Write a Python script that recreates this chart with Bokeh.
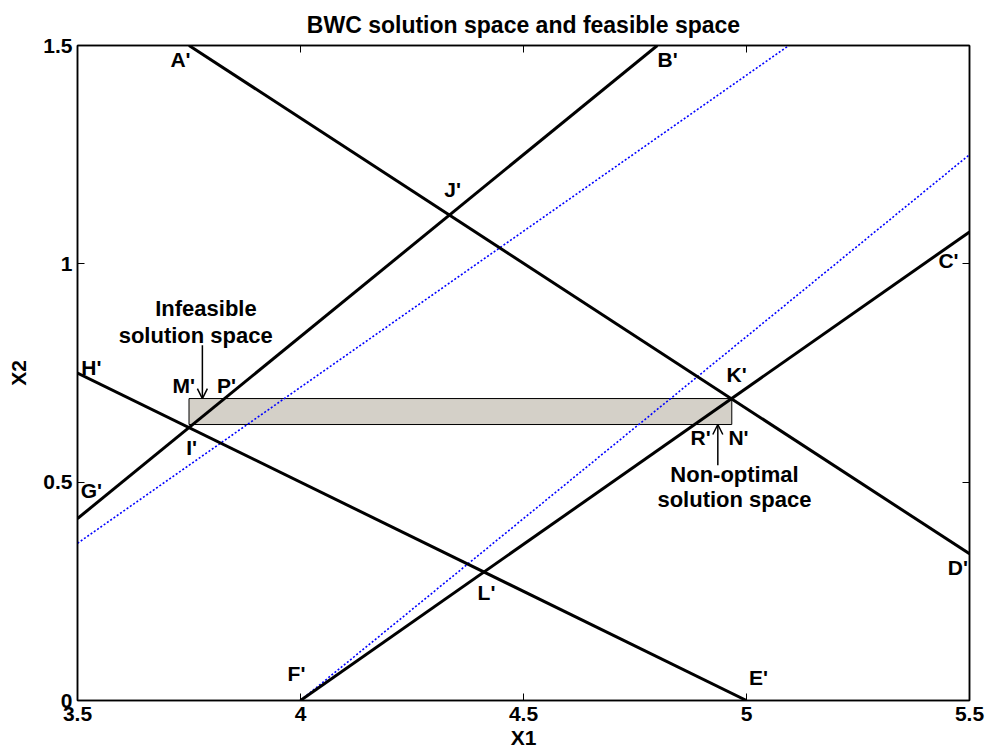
from bokeh.plotting import figure
from bokeh.models import (ColumnDataSource, FixedTicker, CustomJSTickFormatter, LinearAxis,
                          Range1d, Arrow, OpenHead)
from bokeh.core.properties import value
from bokeh.embed import file_html
from bokeh.resources import INLINE

# ---- data ----
x_ticks = [3.5, 4.0, 4.5, 5.0, 5.5]
y_ticks = [0.0, 0.5, 1.0, 1.5]

# constraint lines (black, solid)
line_AD_x = [3.75, 5.5]
line_AD_y = [1.5, 0.336]
line_GB_x = [3.5, 4.8]
line_GB_y = [0.4167, 1.5]
line_HE_x = [3.5, 5.0]
line_HE_y = [0.75, 0.0]
line_FC_x = [4.0, 5.5]
line_FC_y = [0.0, 1.073]

# blue dotted lines
blue1_x = [3.5, 5.095]
blue1_y = [0.36, 1.5]
blue2_x = [4.0, 5.5]
blue2_y = [0.0, 1.25]

# feasible rectangle
rect_left = [3.75]
rect_right = [4.967]
rect_bottom = [0.632]
rect_top = [0.6915]

# point labels
pt_names = ["A'", "B'", "C'", "D'", "E'", "F'", "G'", "H'", "I'", "J'", "K'", "L'", "M'", "P'", "R'", "N'"]
pt_x = [3.731, 4.823, 5.453, 5.474, 5.027, 3.991, 3.531, 3.531, 3.756, 4.341, 4.978, 4.417, 3.738, 3.834, 4.897, 4.982]
pt_y = [1.467, 1.467, 1.008, 0.305, 0.0527, 0.062, 0.481, 0.763, 0.580, 1.171, 0.747, 0.2475, 0.722, 0.722, 0.603, 0.603]

# annotation texts
note_text = ["Infeasible", "solution space", "Non-optimal", "solution space"]
note_x = [3.788, 3.765, 4.973, 4.973]
note_y = [0.897, 0.836, 0.517, 0.461]

# arrows
arrow1 = (3.780, 0.8137, 3.780, 0.6915)
arrow2 = (4.9357, 0.5386, 4.9357, 0.632)

FONT = "Liberation Sans"

p = figure(width=990, height=756, output_backend="svg", toolbar_location=None,
           x_range=Range1d(3.5, 5.5), y_range=Range1d(0, 1.5),
           min_border_left=77, min_border_right=21, min_border_top=45, min_border_bottom=56,
           title="BWC solution space and feasible space")
p.background_fill_color = "white"
p.border_fill_color = "white"
p.outline_line_color = "black"
p.outline_line_width = 1.5
p.grid.visible = False

p.title.text_font = FONT
p.title.text_font_size = "23px"
p.title.text_font_style = "bold"
p.title.text_color = "black"
p.title.align = "center"
p.title.standoff = 16

fmt = CustomJSTickFormatter(code="return tick.toString();")
blank_fmt = CustomJSTickFormatter(code="return '';")

def style_axis(ax, ticks, show_labels=True):
    ax.ticker = FixedTicker(ticks=ticks)
    ax.major_tick_in = 7
    ax.major_tick_out = 0
    ax.minor_tick_line_color = None
    ax.axis_line_color = "black"
    ax.axis_line_width = 1.5
    ax.major_tick_line_color = "black"
    ax.major_tick_line_width = 1
    ax.major_label_text_font = FONT
    ax.major_label_text_font_style = "bold"
    ax.major_label_text_color = "black"
    ax.major_label_text_font_size = "21px"
    if show_labels:
        ax.formatter = fmt
    else:
        ax.formatter = blank_fmt
        ax.major_label_standoff = 0

style_axis(p.xaxis[0], x_ticks)
style_axis(p.yaxis[0], y_ticks)
p.xaxis[0].major_label_standoff = 6
p.yaxis[0].major_label_standoff = 5
p.xaxis[0].axis_label = "X1"
p.yaxis[0].axis_label = "X2"
for ax in (p.xaxis[0], p.yaxis[0]):
    ax.axis_label_text_font = FONT
    ax.axis_label_text_font_style = "bold"
    ax.axis_label_text_font_size = "21px"
    ax.axis_label_text_color = "black"
p.xaxis[0].axis_label_standoff = 2
p.yaxis[0].axis_label_standoff = 10

top_ax = LinearAxis()
style_axis(top_ax, x_ticks, show_labels=False)
p.add_layout(top_ax, "above")
right_ax = LinearAxis()
style_axis(right_ax, y_ticks, show_labels=False)
p.add_layout(right_ax, "right")

# rectangle
p.quad(left=rect_left, right=rect_right, bottom=rect_bottom, top=rect_top,
       fill_color="#d4d0c8", line_color="black", line_width=1)

# blue dotted lines
p.line(blue1_x, blue1_y, line_color="#0000ff", line_width=1.6, line_dash="2 2")
p.line(blue2_x, blue2_y, line_color="#0000ff", line_width=1.6, line_dash="2 2")

# black lines
for xs, ys in [(line_AD_x, line_AD_y), (line_GB_x, line_GB_y),
               (line_HE_x, line_HE_y), (line_FC_x, line_FC_y)]:
    p.line(xs, ys, line_color="black", line_width=3)

# arrows
for (x0, y0, x1, y1) in (arrow1, arrow2):
    p.add_layout(Arrow(end=OpenHead(size=10, line_width=1.5, line_color="black"),
                       x_start=x0, y_start=y0, x_end=x1, y_end=y1,
                       line_width=1.5, line_color="black"))

pts = ColumnDataSource(dict(x=pt_x, y=pt_y, t=pt_names))
p.text(x="x", y="y", text="t", source=pts, text_font=value(FONT), text_font_style="bold",
       text_font_size="21px", text_align="center", text_baseline="middle", text_color="black")

notes = ColumnDataSource(dict(x=note_x, y=note_y, t=note_text))
p.text(x="x", y="y", text="t", source=notes, text_font=value(FONT), text_font_style="bold",
       text_font_size="22px", text_align="center", text_baseline="middle", text_color="black")

open("out.html", "w").write(file_html(p, INLINE))
